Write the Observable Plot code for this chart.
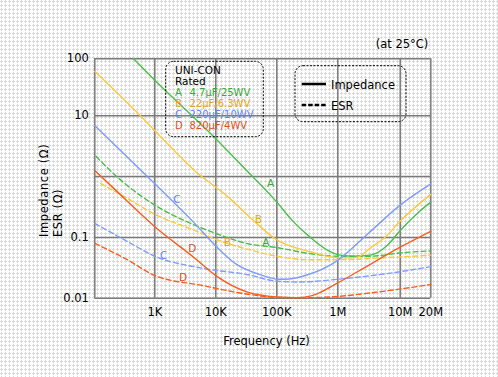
<!DOCTYPE html>
<html><head><meta charset="utf-8">
<script src="https://cdn.jsdelivr.net/npm/d3@7"></script>
<script src="https://cdn.jsdelivr.net/npm/@observablehq/plot@0.6"></script>
<style>
html,body{margin:0;padding:0;}
body{width:498px;height:377px;overflow:hidden;background-color:#fff;
background-image:url("data:image/svg+xml,%3Csvg xmlns='http://www.w3.org/2000/svg' width='4' height='4' shape-rendering='crispEdges'%3E%3Crect width='4' height='4' fill='white'/%3E%3Cpath d='M1 0h1v3h-1zM0 1h3v1h-3z' fill='%23d9d9d9'/%3E%3C/svg%3E");}
#chart svg{display:block;}
</style>
</head><body><div id="chart"></div><script>
// ---- data ----
const keys = ["A", "B", "C", "D"];
const lineColors = ["#48c048", "#ffc83c", "#7c9cff", "#ff5c1c"];
const textColors = ["#38a838", "#e0a820", "#5f82f0", "#e0501c"];
const ratings = ["4.7\u00b5F/25WV", "22\u00b5F/6.3WV", "220\u00b5F/10WV", "820\u00b5F/4WV"];

// Impedance (solid)
const fA_Z = [442, 1000, 10000, 40000, 54000, 100000, 188000, 355000, 676000, 1.1e6, 1.8e6, 3.3e6, 6.3e6, 1e7, 1.48e7, 2e7];
const zA   = [100, 42, 4.2, 1.0, 0.74, 0.38, 0.18, 0.10, 0.062, 0.051, 0.049, 0.051, 0.075, 0.13, 0.25, 0.38];
const fB_Z = [100, 575, 1000, 4500, 16000, 39000, 100000, 355000, 1.1e6, 2e6, 3.3e6, 6e6, 1e7, 2e7];
const zB   = [60, 10, 5.7, 1.25, 0.46, 0.20, 0.091, 0.058, 0.046, 0.047, 0.0665, 0.105, 0.186, 0.51];
const fC_Z = [100, 1000, 4500, 10000, 21000, 56000, 106000, 160000, 330000, 1e6, 3.1e6, 1e7, 2e7];
const zC   = [6.9, 0.76, 0.17, 0.072, 0.037, 0.024, 0.0205, 0.0207, 0.0245, 0.042, 0.117, 0.34, 0.76];
const fD_Z = [100, 207, 1000, 4600, 10000, 33000, 100000, 215000, 380000, 1e6, 2.1e6, 1e7, 2e7];
const zD   = [1.26, 0.64, 0.15, 0.045, 0.0235, 0.0126, 0.0105, 0.0102, 0.011, 0.0178, 0.0275, 0.069, 0.126];

// ESR (dashed)
const fA_E = [105, 195, 1000, 4600, 10000, 35000, 100000, 355000, 1e6, 3.3e6, 1.05e7, 2e7];
const eA   = [2.16, 1.17, 0.34, 0.158, 0.116, 0.078, 0.068, 0.054, 0.049, 0.049, 0.056, 0.060];
const fB_E = [125, 346, 1000, 4900, 10000, 37000, 100000, 320000, 1e6, 5e6, 2e7];
const eB   = [0.77, 0.44, 0.24, 0.126, 0.093, 0.062, 0.049, 0.043, 0.043, 0.046, 0.051];
const fC_E = [100, 347, 1000, 5600, 36000, 100000, 245000, 1e6, 5.5e6, 2e7];
const eC   = [0.17, 0.086, 0.049, 0.0315, 0.024, 0.019, 0.0185, 0.0205, 0.025, 0.033];
const fD_E = [100, 347, 1000, 5600, 36000, 100000, 320000, 1e6, 4e6, 2e7];
const eD   = [0.080, 0.043, 0.0236, 0.0164, 0.0115, 0.0103, 0.0102, 0.0107, 0.0125, 0.0168];

// curve labels
const labelKeys  = ["A", "A", "B", "B", "C", "C", "D", "D"];
const labelFreqs = [79000, 66000, 50000, 15500, 2300, 1400, 4100, 2900];
const labelVals  = [0.76, 0.083, 0.195, 0.083, 0.42, 0.051, 0.065, 0.022];

// axes
const xGrid = [100, 1e3, 1e4, 1e5, 1e6, 1e7, 2e7];
const xTicks = [1e3, 1e4, 1e5, 1e6, 1e7, 2e7];
const xTickLabels = ["1K", "10K", "100K", "1M", "10M", "20M"];
const yGrid = [0.01, 0.1, 1, 10, 100];
const yTicks = [100, 10, 0.1, 0.01];
const yTickLabels = ["100", "10", "0.1", "0.01"];

// ---- build tables ----
const series = [
  ["A", "Z", fA_Z, zA], ["B", "Z", fB_Z, zB], ["C", "Z", fC_Z, zC], ["D", "Z", fD_Z, zD],
  ["A", "E", fA_E, eA], ["B", "E", fB_E, eB], ["C", "E", fC_E, eC], ["D", "E", fD_E, eD]
];
const rows = series.flatMap(([key, kind, fs, vs]) => fs.map((f, i) => ({key, kind, f, v: vs[i]})));
const labels = labelKeys.map((k, i) => ({key: k, f: labelFreqs[i], v: labelVals[i]}));
const textColorOf = Object.fromEntries(keys.map((k, i) => [k, textColors[i]]));

const gridColor = "#7a7a7a";
const plot = Plot.plot({
  width: 498, height: 377,
  marginLeft: 94, marginRight: 68, marginTop: 58, marginBottom: 79,
  style: {fontFamily: "'DejaVu Sans', sans-serif", fontSize: "11.5px", background: "transparent", overflow: "visible"},
  x: {type: "log", domain: [100, 1e3, 1e6, 1e7, 2e7], range: [94.3, 154.3, 337.3, 399.7, 430.3], axis: null},
  y: {type: "log", domain: [0.01, 10, 100], range: [297.7, 115.3, 58.3], axis: null},
  color: {domain: keys, range: lineColors},
  marks: [
    Plot.ruleX(xGrid, {x: d => d, y1: 0.01, y2: 100, stroke: gridColor, strokeWidth: 1.5}),
    Plot.ruleY(yGrid, {y: d => d, x1: 100, x2: 2e7, stroke: gridColor, strokeWidth: 1.5}),
    Plot.line(rows.filter(d => d.kind === "E"), {x: "f", y: "v", z: "key", stroke: "key", strokeWidth: 1.4, strokeDasharray: "5,3", curve: "monotone-x"}),
    Plot.line(rows.filter(d => d.kind === "Z"), {x: "f", y: "v", z: "key", stroke: "key", strokeWidth: 1.4, curve: "monotone-x"}),
    Plot.text(labels, {x: "f", y: "v", text: "key", fill: d => textColorOf[d.key], fontSize: 10.5}),
    Plot.text(xTicks, {x: d => d, y: () => 0.01, text: (d, i) => xTickLabels[i], dy: 14, fill: "black", fontSize: 11.5}),
    Plot.text(yTicks, {x: () => 100, y: d => d, text: (d, i) => yTickLabels[i], dx: -6, textAnchor: "end", fill: "black", fontSize: 11.5})
  ]
});
document.getElementById("chart").appendChild(plot);

// ---- titles and legends ----
const svg = d3.select(plot);
const font = "'DejaVu Sans', sans-serif";
function txt(parent, x, y, t, opts = {}) {
  const e = parent.append("text").attr("x", x).attr("y", y)
    .attr("text-anchor", opts.anchor || "start")
    .attr("font-family", font).attr("font-size", opts.size || 11.5)
    .attr("fill", opts.fill || "black").text(t);
  return e;
}
txt(svg, 428.3, 47.5, "(at 25\u00b0C)", {anchor: "end"});
txt(svg, 266.5, 344.5, "Frequency (Hz)", {anchor: "middle"});
[["Impedance (\u03a9)", 44], ["ESR (\u03a9)", 57.7]].forEach(([t, x]) => {
  txt(svg, 0, 0, t).attr("transform", `translate(${x},237) rotate(-90)`).attr("dy", "0.35em")
    .attr("letter-spacing", "0.6px");
});

// legend 1
const g1 = svg.append("g");
g1.append("rect").attr("x", 165.7).attr("y", 61.3).attr("width", 97.6).attr("height", 75.4).attr("rx", 8)
  .attr("fill", "none").attr("stroke", "black").attr("stroke-width", 1).attr("stroke-dasharray", "2,1.5");
txt(g1, 175, 74, "UNI-CON", {size: 10.5});
txt(g1, 175, 85, "Rated", {size: 10.5});
keys.forEach((k, i) => {
  txt(g1, 175, 96 + 11 * i, k, {size: 10, fill: textColors[i]});
  txt(g1, 189.5, 96 + 11 * i, ratings[i], {size: 10, fill: textColors[i]});
});

// legend 2
const g2 = svg.append("g");
g2.append("rect").attr("x", 295).attr("y", 65.7).attr("width", 111).attr("height", 56).attr("rx", 8)
  .attr("fill", "none").attr("stroke", "black").attr("stroke-width", 1).attr("stroke-dasharray", "2,1.5");
[["Impedance", 84, null], ["ESR", 105, "4.5,2"]].forEach(([t, y, dash]) => {
  const l = g2.append("line").attr("x1", 301.7).attr("x2", 326).attr("y1", y).attr("y2", y)
    .attr("stroke", "black").attr("stroke-width", 2.5);
  if (dash) l.attr("stroke-dasharray", dash);
  txt(g2, 331, y + 4.5, t);
});
</script></body></html>
